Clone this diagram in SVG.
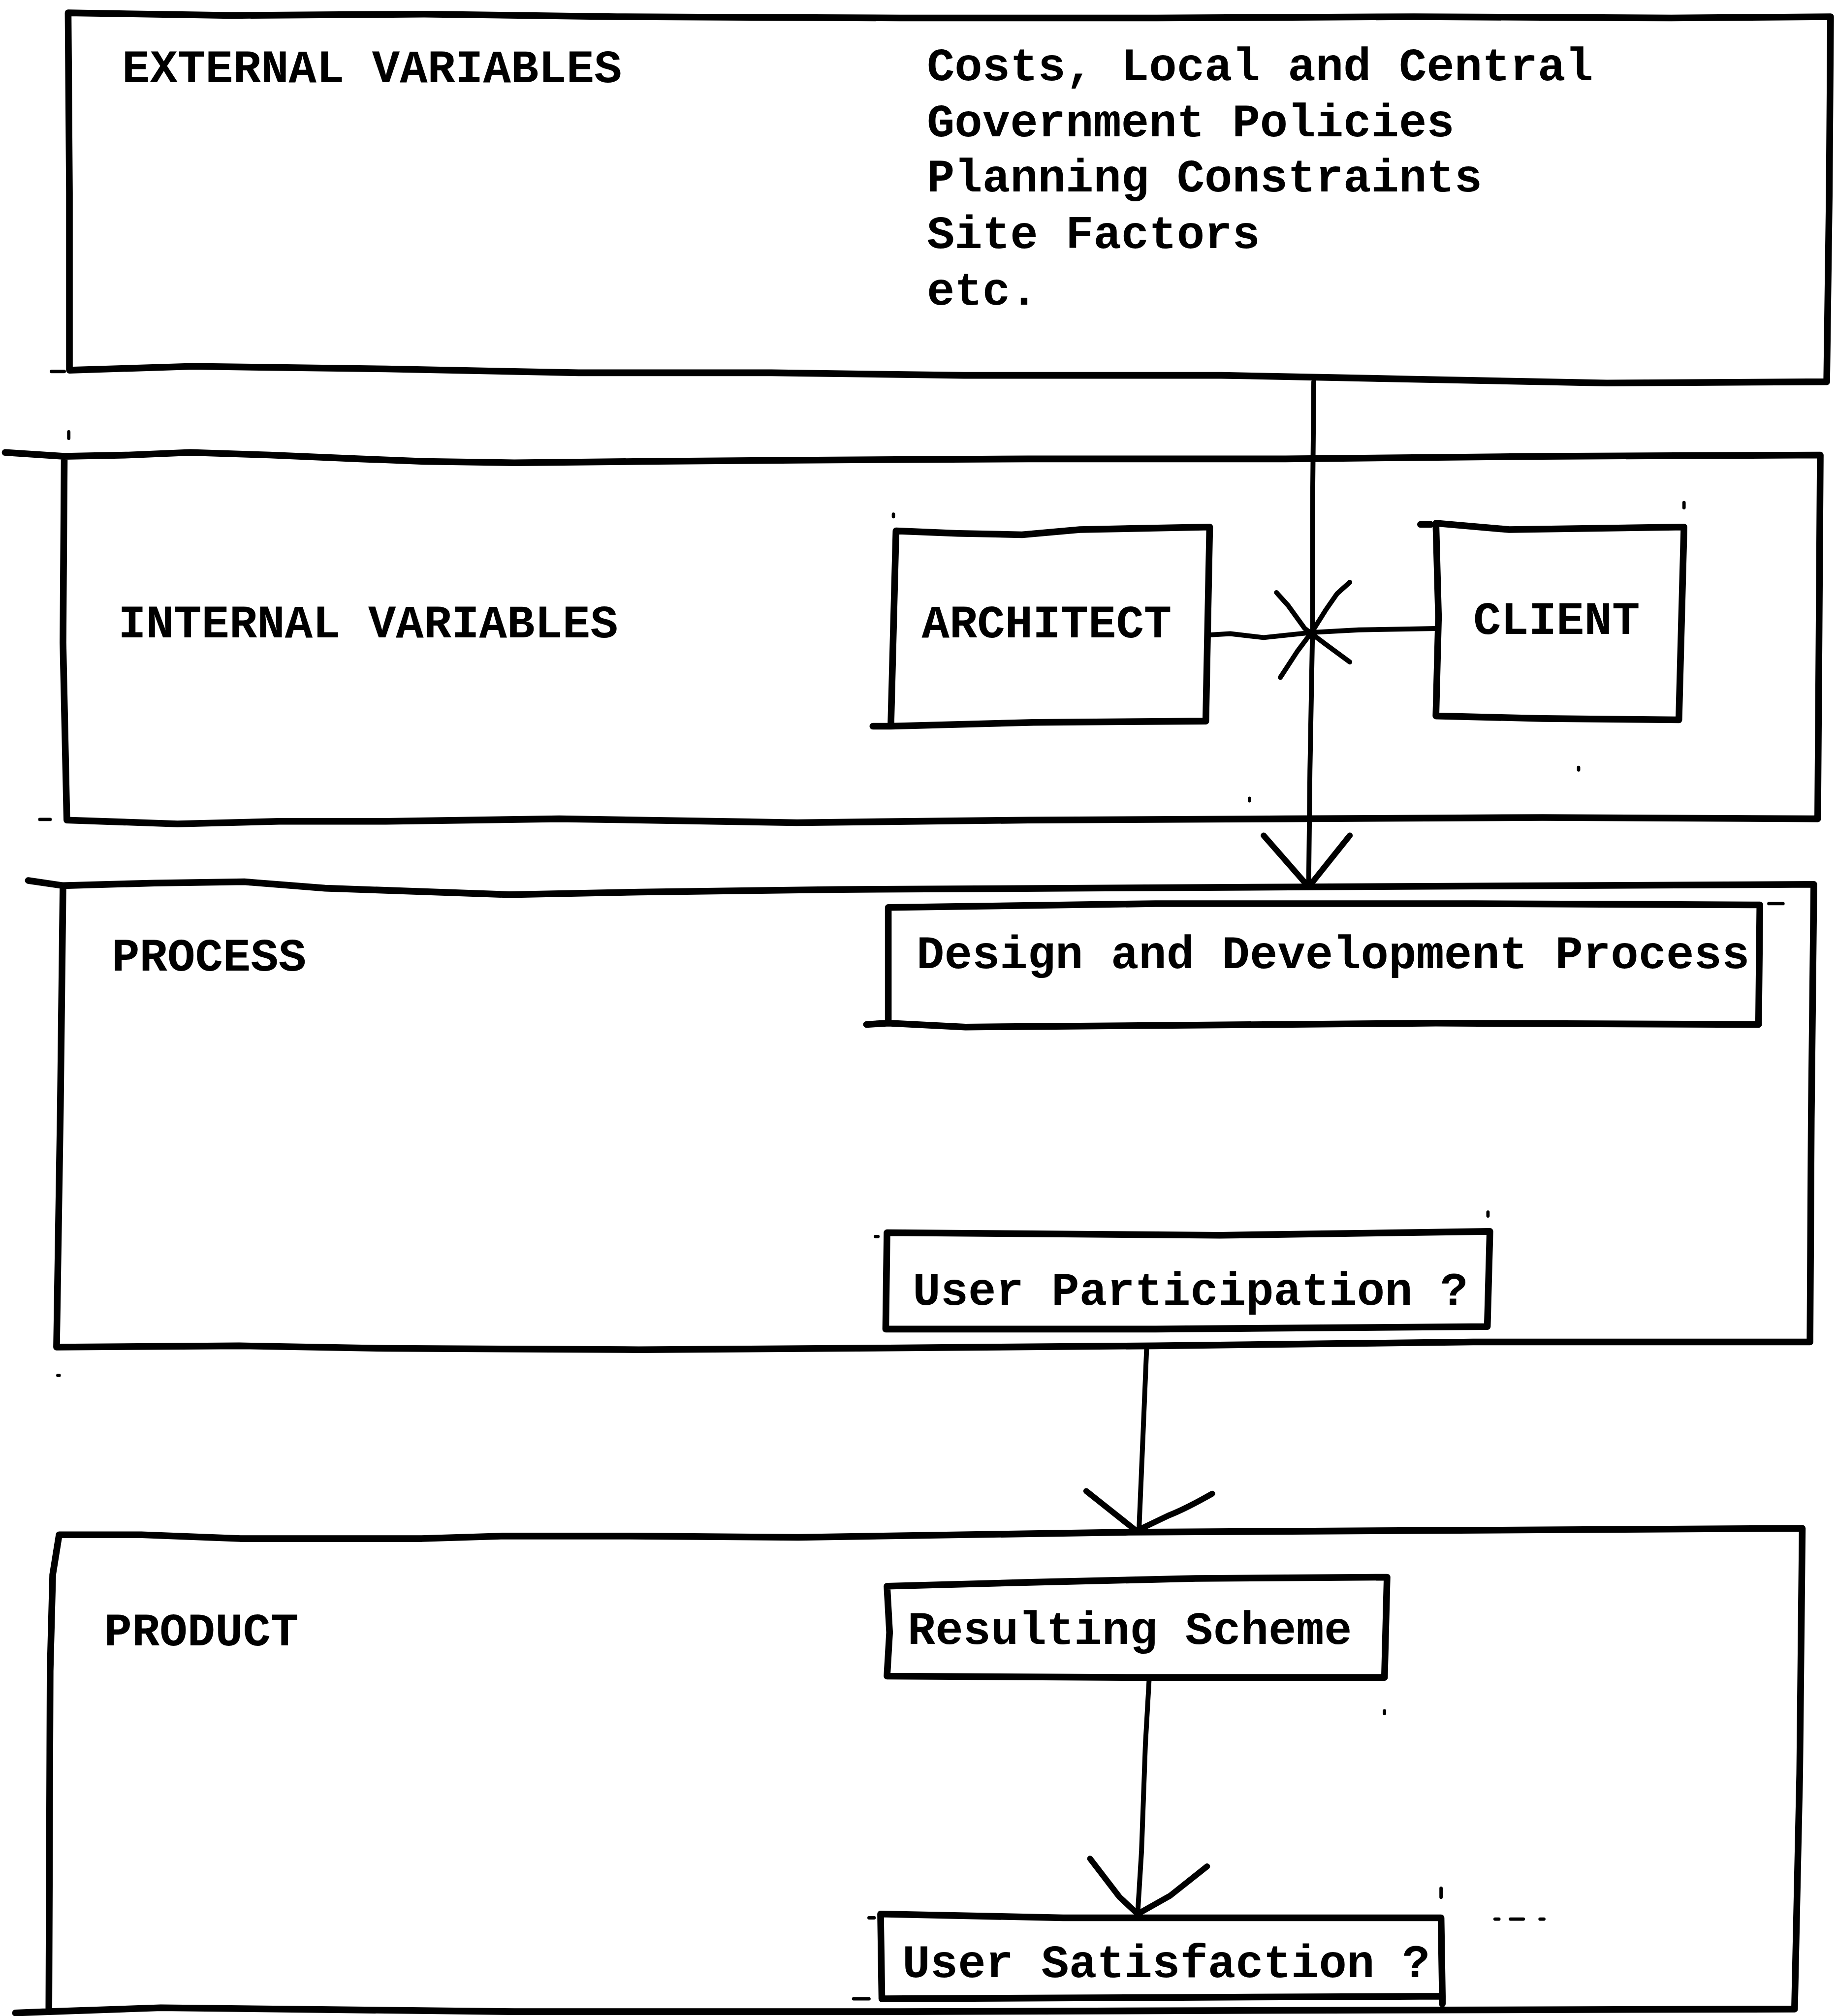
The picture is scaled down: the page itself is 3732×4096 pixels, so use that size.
<svg xmlns="http://www.w3.org/2000/svg" width="3732" height="4096" viewBox="0 0 3732 4096">
<style>
.box{fill:none;stroke:#000;stroke-width:5.2;stroke-linejoin:round;stroke-linecap:round}
.conn{fill:none;stroke:#000;stroke-width:3.8;stroke-linejoin:round;stroke-linecap:round}
.head{fill:none;stroke:#000;stroke-width:4.6;stroke-linejoin:round;stroke-linecap:round}
.mark{fill:none;stroke:#000;stroke-width:2.6;stroke-linecap:round}
.t{font-family:"Liberation Mono","Courier New",monospace;font-weight:bold;font-size:36px;fill:#000}
</style>
<rect x="0" y="0" width="3732" height="4096" fill="#fff"/>
<g transform="scale(2.6116)">
  <g id="external-variables">
    <path class="box" d="M53,10 L180,12 L330,11 L480,13 L700,14 L900,14 L1100,13 L1300,14 L1424,13 L1423,150 L1421,297 L1250,298 L1100,295 L950,292 L750,292 L600,290 L450,290 L300,287 L150,285 L54,288 L54,150 Z"/>
    <text class="t" x="95" y="64">EXTERNAL VARIABLES</text>
    <text class="t" x="721" y="62.5">Costs, Local and Central</text>
    <text class="t" x="721" y="106">Government Policies</text>
    <text class="t" x="721" y="149">Planning Constraints</text>
    <text class="t" x="721" y="193">Site Factors</text>
    <text class="t" x="721" y="237">etc.</text>
  </g>
  <g id="internal-variables">
    <path class="box" d="M50,355 L100,354 L148,352 L210,354 L280,357 L330,359 L400,360 L500,359 L620,358 L800,357 L1000,357 L1200,355 L1416,354 L1415,500 L1414,637 L1200,636 L1000,637 L800,638 L620,640 L435,637 L300,639 L217,639 L138,641 L52,638 L49,500 Z M4,352 L50,355"/>
    <text class="t" x="92" y="496">INTERNAL VARIABLES</text>
  </g>
  <g id="process">
    <path class="box" d="M49,689 L120,687 L190,686 L253,691 L396,696 L497,694 L652,692 L1018,690 L1411,688 L1409,870 L1408,1044 L1146,1044 L899,1047 L652,1049 L497,1050 L300,1049 L186,1047 L44,1048 L47,860 Z M22,685 L49,689"/>
    <text class="t" x="87" y="755">PROCESS</text>
  </g>
  <g id="product">
    <path class="box" d="M46,1194 L110,1194 L187,1197 L328,1197 L391,1195 L490,1195 L621,1196 L878,1192 L1402,1189 L1400,1380 L1396,1563 L1000,1564 L700,1565 L400,1565 L125,1562 L38,1565 L39,1300 L41,1225 Z M12,1566 L38,1565"/>
    <text class="t" x="81" y="1280">PRODUCT</text>
  </g>
  <g id="architect">
    <path class="box" d="M697,413 L745,415 L795,416 L840,412 L941,410 L938,561 L804,562 L693,565 Z M679,565 L693,565"/>
    <text class="t" x="717" y="496">ARCHITECT</text>
  </g>
  <g id="client">
    <path class="box" d="M1117,407 L1174,412 L1310,410 L1306,560 L1200,559 L1117,557 L1119,480 Z M1105,408 L1113,408"/>
    <text class="t" x="1146" y="493">CLIENT</text>
  </g>
  <g id="design-process">
    <path class="box" d="M691,706 L899,703 L1146,703 L1369,704 L1368,797 L1117,796 L751,799 L691,796 Z M674,797 L691,796"/>
    <text class="t" x="713" y="753">Design and Development Process</text>
  </g>
  <g id="user-participation">
    <path class="box" d="M690,959 L949,961 L1159,958 L1157,1032 L899,1034 L689,1034 Z"/>
    <text class="t" x="710" y="1015">User Participation ?</text>
  </g>
  <g id="resulting-scheme">
    <path class="box" d="M690,1234 L801,1231 L930,1228 L1079,1227 L1077,1305 L878,1305 L690,1304 L692,1270 Z"/>
    <text class="t" x="706" y="1279">Resulting Scheme</text>
  </g>
  <g id="user-satisfaction">
    <path class="box" d="M685,1489 L827,1492 L1121,1492 L1122,1553 L900,1554 L686,1555 Z M1122,1553 L1122,1559"/>
    <text class="t" x="702" y="1538">User Satisfaction ?</text>
  </g>
  <g id="connectors">
    <path class="conn" d="M1022,297 L1021,400 L1021,491 L1019,600 L1018,690"/>
    <path class="head" d="M983,650 L1018,690 L1050,650"/>
    <path class="conn" d="M940,494 L957,493 L983,496 L1021,492 L1057,490 L1117,489"/>
    <path class="conn" d="M993,461 L1002,471 L1015,489 L1031,501 L1050,515"/>
    <path class="conn" d="M1050,453 L1040,462 L1031,475 L1021,491 L1009,507 L996,527"/>
    <path class="conn" d="M892,1048 L889,1120 L886,1191"/>
    <path class="head" d="M845,1160 L884,1191 M943,1162 Q922,1174 909,1179 L884,1191"/>
    <path class="conn" d="M894,1305 L891,1357 L888,1440 L885,1489"/>
    <path class="head" d="M848,1446 L871,1476 L885,1489 L910,1475 L939,1452"/>
  </g>
  <g id="marks">
    <path class="mark" d="M40,289 L50,289 M53.5,336 L53.5,341 M31,637.5 L39,637.5 M695,400 L695,402 M1310,391 L1310,395 M1228,597 L1228,599 M972,621 L972,623 M1376,703 L1387,703 M681,962 L683,962 M1157.5,943 L1157.5,946 M1077,1331 L1077,1333 M1121,1469 L1121,1476 M676,1492 L680,1492 M1163,1493 L1166,1493 M1175,1493 L1185,1493 M1198,1493 L1201,1493 M664,1555 L676,1555 M45,1070 L46,1070"/>
  </g>
</g>
</svg>
